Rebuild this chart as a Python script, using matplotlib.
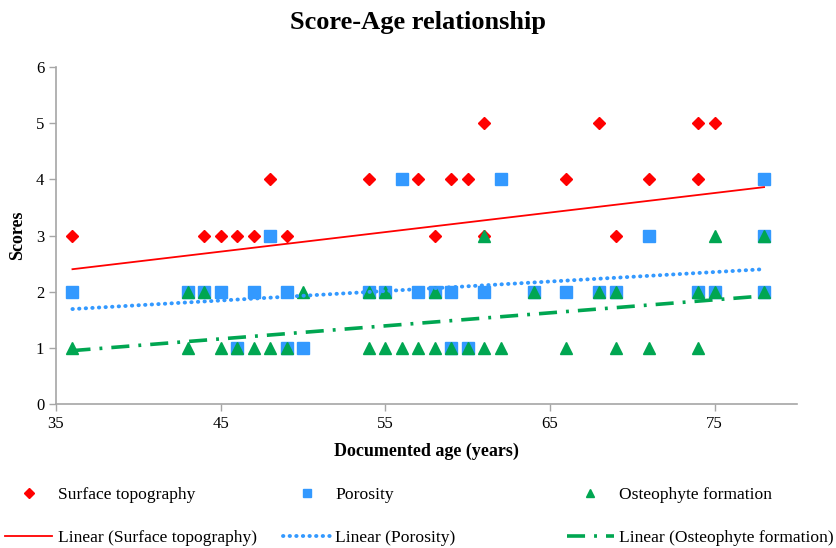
import matplotlib.pyplot as plt
import numpy as np

# ages and scores
surface_age = [36, 44, 45, 46, 47, 48, 49, 54, 57, 58, 59, 60, 61, 61, 66, 68, 69, 71, 74, 74, 75]
surface_score = [3, 3, 3, 3, 3, 4, 3, 4, 4, 3, 4, 4, 5, 3, 4, 5, 3, 4, 5, 4, 5]

porosity_age = [36, 43, 44, 45, 47, 49, 54, 55, 57, 58, 59, 61, 64, 66, 68, 69, 74, 75, 78,
                48, 71, 78,
                56, 62, 78,
                46, 49, 50, 59, 60]
porosity_score = [2] * 19 + [3] * 3 + [4] * 3 + [1] * 5

osteo_age = [36, 43, 45, 46, 47, 48, 49, 54, 55, 56, 57, 58, 59, 60, 61, 62, 66, 69, 71, 74,
             43, 44, 50, 54, 55, 58, 64, 68, 69, 74, 75, 78,
             61, 75, 78]
osteo_score = [1] * 20 + [2] * 12 + [3] * 3

# linear trendlines (slope, intercept) as shown in the chart
surface_trend = (0.0348, 1.147)
porosity_trend = (0.0169, 1.082)
osteo_trend = (0.0232, 0.115)

red = '#FF0000'
blue = '#3399FF'
green = '#00A651'

plt.rcParams['font.family'] = 'Liberation Serif'

fig = plt.figure(figsize=(8.37, 5.48), dpi=100)
ax = fig.add_axes([0.0669, 0.2628, 0.8853, 0.6149])

h1, = ax.plot(surface_age, surface_score, 'D', color=red, markersize=6.5, linestyle='none',
              label='Surface topography')
h2, = ax.plot(porosity_age, porosity_score, 's', color=blue, markersize=8, linestyle='none',
              label='Porosity')
h3, = ax.plot(osteo_age, osteo_score, '^', color=green, markersize=8, linestyle='none',
              label='Osteophyte formation')

# trendlines over the age range of the data
all_ages = surface_age + porosity_age + osteo_age
xs = np.array([min(all_ages), max(all_ages)])
l1, = ax.plot(xs, surface_trend[0] * xs + surface_trend[1], '-', color=red, lw=1.3,
              label='Linear (Surface topography)')
l2, = ax.plot(xs, porosity_trend[0] * xs + porosity_trend[1], color=blue, lw=2.8,
              linestyle=(0, (0.1, 1.6)), dash_capstyle='round',
              label='Linear (Porosity)')
l3, = ax.plot(xs, osteo_trend[0] * xs + osteo_trend[1], color=green, lw=2.6,
              linestyle=(0, (5, 2.5, 0.8, 2.5)),
              label='Linear (Osteophyte formation)')

ax.set_xlim(35, 80)
ax.set_ylim(0, 6)
ax.set_xticks([35, 45, 55, 65, 75])
ax.set_yticks(range(7))
ax.tick_params(labelsize=12, color='#A6A6A6', length=5, width=1)

for s in ['top', 'right']:
    ax.spines[s].set_visible(False)
for s in ['left', 'bottom']:
    ax.spines[s].set_color('#A6A6A6')
    ax.spines[s].set_linewidth(1.2)

ax.set_xlabel('Documented age (years)', fontsize=13, fontweight='bold', labelpad=8)
ax.set_ylabel('Scores', fontsize=13, fontweight='bold', labelpad=7)
fig.suptitle('Score-Age relationship', fontsize=19, fontweight='bold', y=0.98)

# legend: three columns, markers on top row and trendlines below
cols = [(h1, l1, 0.006), (h2, l2, 0.338), (h3, l3, 0.677)]
for h, l, x in cols:
    fig.legend([h, l], [h.get_label(), l.get_label()], loc='center left',
               bbox_to_anchor=(x, 0.058), frameon=False, fontsize=12.6,
               handlelength=2.7, handletextpad=0.3, labelspacing=1.55,
               borderpad=0, borderaxespad=0, markerscale=0.8)

plt.savefig('out.png', dpi=100)
